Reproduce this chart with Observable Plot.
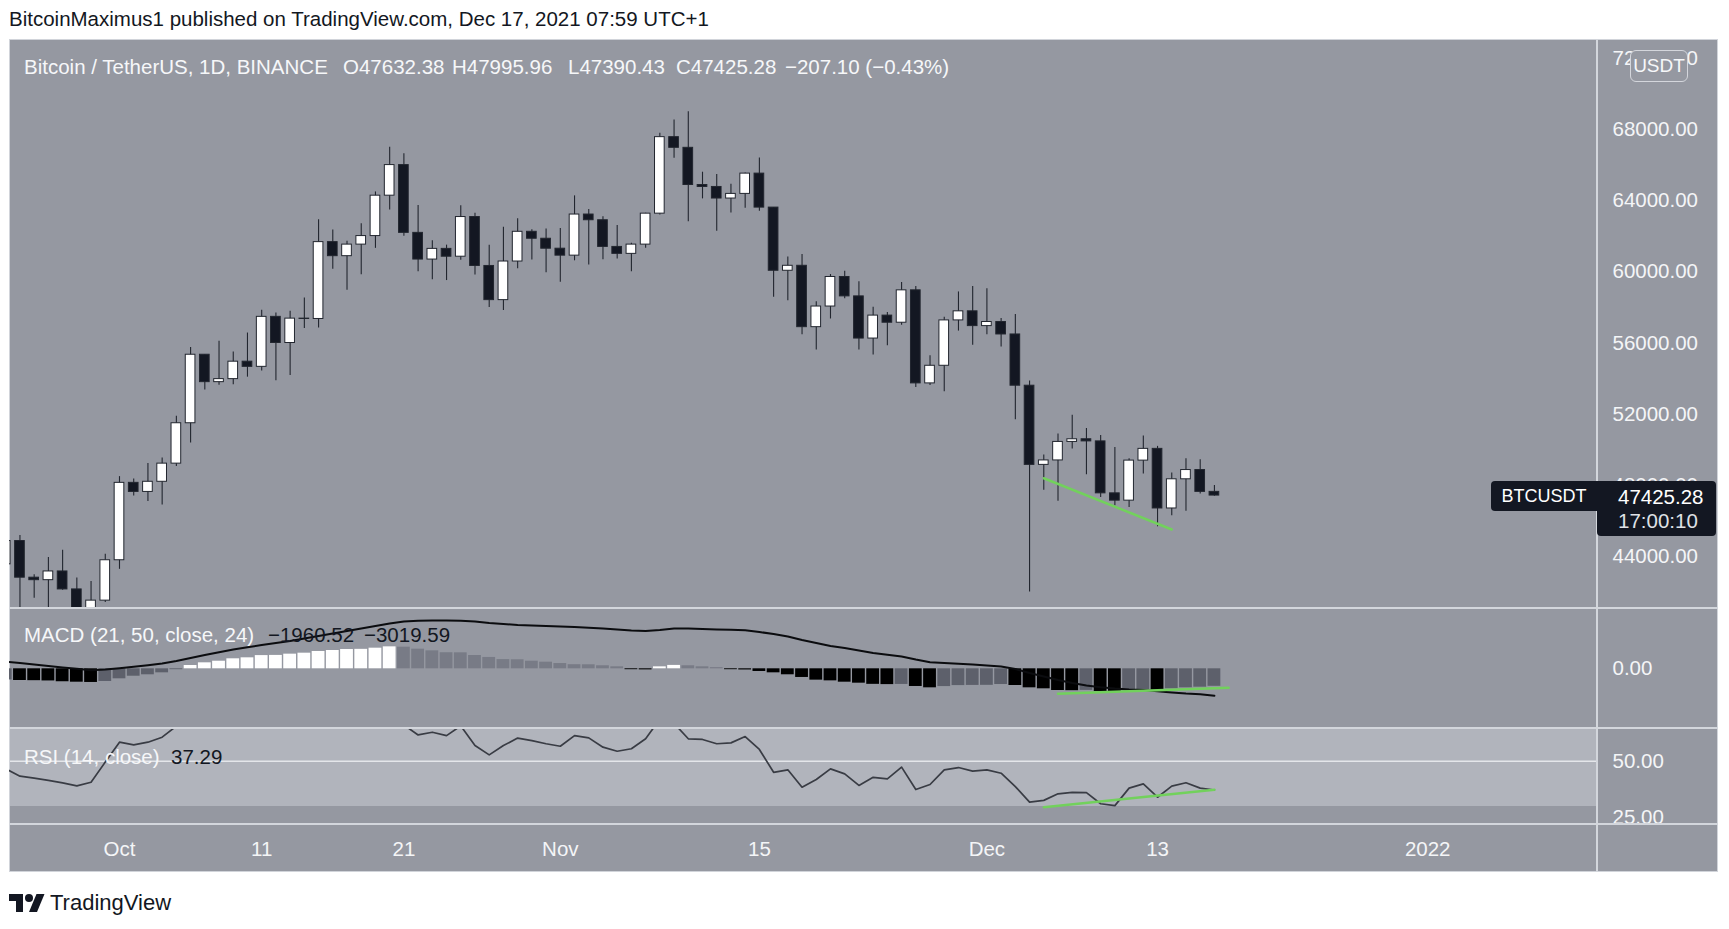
<!DOCTYPE html>
<html>
<head>
<meta charset="utf-8">
<script src="https://cdn.jsdelivr.net/npm/d3@7"></script>
<script src="https://cdn.jsdelivr.net/npm/@observablehq/plot@0.6"></script>
<style>
  html, body { margin:0; padding:0; background:#ffffff; }
  body { width:1729px; height:929px; position:relative; overflow:hidden; font-family:"Liberation Sans", Arial, sans-serif; }
  .abs { position:absolute; white-space:nowrap; }
  #frame { position:absolute; left:9px; top:39px; width:1707px; height:831px; background:#9598a1; border:1px solid #d1d4da; }
  .pane { position:absolute; left:9px; width:1709px; }
  .sep { position:absolute; background:#d3d6dc; }
  .lg { position:absolute; font-size:20.5px; line-height:24px; white-space:nowrap; color:#f6f7f9; }
  .val { color:#131722; }
</style>
</head>
<body>
<div class="abs" id="byline" style="left:9px;top:7px;font-size:20.5px;line-height:24px;color:#131722;">BitcoinMaximus1 published on TradingView.com, Dec 17, 2021 07:59 UTC+1</div>
<div id="frame"></div>
<div class="pane" id="pricePane" style="top:39px"></div>
<div class="pane" id="macdPane" style="top:609px"></div>
<div class="pane" id="rsiPane" style="top:729px"></div>
<div class="sep" style="left:9px;top:607px;width:1709px;height:2px"></div>
<div class="sep" style="left:9px;top:727px;width:1709px;height:2px"></div>
<div class="sep" style="left:9px;top:823px;width:1709px;height:2px"></div>
<div class="sep" style="left:1596px;top:39px;width:2px;height:833px"></div>
<div id="legends"></div>
<div class="abs" style="left:1630px;top:50px;width:56px;height:30px;border:1px solid #d4d6dc;border-radius:6px;background:#9598a1;color:#f6f7f9;font-size:19px;line-height:30px;text-align:center;">USDT</div>
<div class="abs" style="left:1491px;top:481px;width:106px;height:30px;background:#131722;border-radius:4px 0 0 4px;color:#ffffff;font-size:18px;line-height:30px;text-align:center;">BTCUSDT</div>
<div class="abs" id="lastBox" style="left:1597px;top:481px;width:119px;height:55px;background:#131722;border-radius:0 4px 4px 4px;"></div>
<svg class="abs" style="left:9px;top:894px" width="36" height="18" viewBox="0 4 36 18">
  <path d="M14 22H7V11H0V4h14v18z" fill="#131722"/>
  <circle cx="20" cy="8" r="4" fill="#131722"/>
  <path d="M28 22h-8l7.5-18h8L28 22z" fill="#131722"/>
</svg>
<div class="abs" style="left:50px;top:890px;font-size:22px;line-height:26px;color:#131722;">TradingView</div>

<script>
const DAY = 864e5;
const firstDay = Date.UTC(2021, 8, 23);

// Daily candles, Sep 23 – Dec 17 2021
const open = [43560,44870,42810,42670,43160,42150,41030,41520,
  43790,48140,47630,48200,49220,51490,55340,53800,53970,54950,54660,57470,56000,57370,57350,61670,60880,61530,62010,64280,66000,62190,60690,61290,60850,63080,60330,58410,60580,62250,61860,
  61300,60910,63220,62900,61400,61010,61530,63270,67570,66970,64880,64770,64120,64380,65520,63610,60060,60340,56890,58050,59710,58620,56250,57540,57140,58960,53730,54720,57270,57780,
  56950,57180,56480,53600,49150,49400,50440,50590,50470,47550,47140,49390,50050,46700,48340,48860,47632.38];
const high = [44980,45180,42980,43950,44350,42790,42590,44130,
  48490,48360,49230,49540,51890,55750,55340,56100,55490,56560,57840,57680,57780,58530,62930,62350,61720,62700,64490,67000,66640,63730,61750,61500,63710,63290,61500,62500,62980,62360,62410,
  62440,64270,63500,63090,62600,61600,63290,67790,68530,69000,65600,65470,64920,65550,66400,63620,60840,60980,58320,59850,60030,59440,58010,57710,59400,59180,55280,57450,58870,59180,
  59050,57380,57600,53860,49700,50890,51940,51200,50800,50130,49490,50780,50190,48700,49500,49440,47995.96];
const low = [43070,40680,41650,40750,42100,40930,40750,41410,
  43280,47400,47090,46890,49060,50380,53360,53620,53660,54080,54420,53880,54170,56820,56850,60150,58960,59840,61320,63480,62000,60000,59560,59510,60650,59820,58000,57820,60170,60670,59950,
  59410,60620,60380,60680,60720,60000,61320,63200,66380,62820,64100,62280,63300,63580,63400,58570,58370,56470,55600,57350,58490,55610,55320,55840,57000,53500,53610,53260,56670,55880,
  56460,55780,51680,42000,47730,47100,50040,48600,47320,46850,46750,48640,45670,46290,46550,47510,47390.43];
const close = [44870,42810,42670,43160,42150,41030,41520,43790,
  48140,47630,48200,49220,51490,55340,53800,53970,54950,54660,57470,56000,57370,57350,61670,60880,61530,62010,64280,66000,62190,60690,61290,60850,63080,60330,58410,60580,62250,61860,61300,
  60910,63220,62900,61400,61010,61530,63270,67570,66970,64880,64770,64120,64380,65520,63610,60060,60340,56890,58050,59710,58620,56250,57540,57140,58960,53730,54720,57270,57780,56950,
  57180,56480,53600,49150,49400,50440,50590,50470,47550,47140,49390,50050,46700,48340,48860,47632.38,47425.28];

// MACD (21, 50, close, 24): histogram and MACD line
const macdHist = [-1250,-1310,-1330,-1360,-1450,-1500,-1530,-1420,
  -1120,-830,-670,-450,-100,370,670,850,1120,1230,1480,1500,1640,1750,1940,2050,2160,2180,2310,2460,2420,2200,2010,1800,1790,1490,1270,1030,1010,850,740,
  590,460,450,340,220,-100,-120,220,380,340,220,130,-100,-130,-300,-450,-670,-970,-1270,-1350,-1500,-1610,-1740,-1770,-1750,-1980,-2130,-1990,-1880,-1860,
  -1850,-1760,-1870,-2130,-2240,-2430,-2450,-2420,-2540,-2580,-2440,-2320,-2440,-2240,-2130,-2060,-1960.52];
const macdLine = [800,640,470,310,150,0,-150,-90,
  60,220,400,590,880,1220,1540,1860,2150,2410,2660,2890,3120,3390,3670,3950,4230,4510,4790,5070,5300,5380,5410,5410,5390,5300,5130,5020,4910,4850,4790,
  4740,4680,4600,4510,4400,4290,4230,4350,4510,4510,4460,4400,4370,4320,4120,3900,3620,3230,2890,2550,2330,2050,1770,1570,1380,1040,740,650,560,480,
  370,260,-20,-470,-860,-1250,-1590,-1870,-2060,-2210,-2320,-2370,-2520,-2650,-2770,-2850,-3019.59];

// RSI (14, close)
const rsi = [46.6,43.4,42.5,41.5,40.4,39.1,40.7,49.6,
  58.4,57.2,58.4,60.6,65.5,72,67,67.5,69,68,72,67,70,70,76,73,74,75,78,80,66,61.6,62.8,61.3,65.6,56.9,52.8,56.9,60.2,59.1,57.7,
  56.6,61.3,60.3,56.2,54.4,55.5,59.9,68.6,66.7,59.9,59.6,57.7,58.1,60.9,55.2,45.1,46.2,38.5,41.9,46.6,44.4,39.3,42.9,42.2,47.4,37.5,39.7,46.2,47.2,45.6,
  46.2,44.7,38.8,31.9,32.7,35.6,36.2,36.1,31.2,30.4,38.1,40.0,34.1,39.0,40.5,38.1,37.29];

// Drawn trend lines
const priceTrendDates = [Date.UTC(2021,11,5), Date.UTC(2021,11,14)];
const priceTrendValues = [48400, 45520];
const macdTrendDates = [Date.UTC(2021,11,6), Date.UTC(2021,11,18)];
const macdTrendValues = [-2800, -2130];
const rsiTrendDates = [Date.UTC(2021,11,5), Date.UTC(2021,11,17)];
const rsiTrendValues = [29.7, 37.4];

// Axis ticks
const timeTickDates = [Date.UTC(2021,9,1), Date.UTC(2021,9,11), Date.UTC(2021,9,21), Date.UTC(2021,10,1), Date.UTC(2021,10,15), Date.UTC(2021,11,1), Date.UTC(2021,11,13), Date.UTC(2022,0,1)];
const timeTickLabels = ["Oct","11","21","Nov","15","Dec","13","2022"];
const priceTicks = [44000,48000,52000,56000,60000,64000,68000,72000];
const macdTicks = [0];
const rsiTicks = [25, 50];

const GREEN = "#72d15c";
const FONT = '"Liberation Sans", Arial, sans-serif';
const oct1 = Date.UTC(2021, 9, 1);
const xDomain = [new Date(oct1 - 7.665 * DAY), new Date(oct1 + 103.94 * DAY)];

const dates = close.map((_, i) => new Date(firstDay + i * DAY));
const candles = dates.map((date, i) => ({date, open: open[i], high: high[i], low: low[i], close: close[i]}));
const macdRows = dates.map((date, i) => {
  const h = macdHist[i], p = i > 0 ? macdHist[i - 1] : null;
  const color = h >= 0 ? ((p === null || h > p) ? "#ffffff" : "#787b86") : ((p !== null && h < p) ? "#000000" : "#5d606b");
  return {date, hist: h, macd: macdLine[i], color};
});
const rsiRows = dates.map((date, i) => ({date, rsi: rsi[i]}));
const toRows = (ds, vs) => ds.map((t, i) => ({date: new Date(t), value: vs[i]}));
const priceTrend = toRows(priceTrendDates, priceTrendValues);
const macdTrend = toRows(macdTrendDates, macdTrendValues);
const rsiTrend = toRows(rsiTrendDates, rsiTrendValues);
const tickDates = timeTickDates.map(t => new Date(t));

const base = (height, marginBottom) => ({
  width: 1709, height, marginLeft: 1, marginRight: 121, marginTop: 0, marginBottom,
  style: {background: "transparent", color: "#f4f5f7", fontFamily: FONT, fontSize: "20.5px", overflow: "hidden"}
});
const xHidden = {type: "utc", domain: xDomain, axis: null};
const yRight = (domain, ticks) => ({domain, axis: "right", ticks, tickFormat: d => d.toFixed(2), tickSize: 0, tickPadding: 15, label: null});
const half = (d, k) => new Date(+d.date + k * DAY);

const pricePlot = Plot.plot({
  ...base(569, 0),
  x: xHidden,
  y: yRight([41078, 73058], priceTicks),
  marks: [
    Plot.ruleX(candles, {x: "date", y1: "low", y2: "high", stroke: "#22262f", strokeWidth: 1.1}),
    Plot.rect(candles, {x1: d => half(d, -0.34), x2: d => half(d, 0.34), y1: "open", y2: "close",
      fill: d => d.close >= d.open ? "#ffffff" : "#131722", stroke: "#22262f", strokeWidth: 1}),
    Plot.line(priceTrend, {x: "date", y: "value", stroke: GREEN, strokeWidth: 2.5})
  ]
});
document.getElementById("pricePane").appendChild(pricePlot);

const macdPlot = Plot.plot({
  ...base(119, 0),
  x: xHidden,
  y: yRight([-6686, 6642], macdTicks),
  marks: [
    Plot.rect(macdRows, {x1: d => half(d, -0.45), x2: d => half(d, 0.45), y1: 0, y2: "hist", fill: "color"}),
    Plot.line(macdRows, {x: "date", y: "macd", stroke: "#0b0c0f", strokeWidth: 2}),
    Plot.line(macdTrend, {x: "date", y: "value", stroke: GREEN, strokeWidth: 2.5})
  ]
});
document.getElementById("macdPane").appendChild(macdPlot);

const rsiPlot = Plot.plot({
  ...base(143, 48),
  x: {type: "utc", domain: xDomain, axis: "bottom", ticks: tickDates,
      tickFormat: d => timeTickLabels[timeTickDates.indexOf(+d)], tickSize: 0, tickPadding: 17, label: null},
  y: yRight([22.05, 64.0], rsiTicks),
  marks: [
    Plot.rect([{lo: 30, hi: 70}], {x1: () => xDomain[0], x2: () => xDomain[1], y1: "lo", y2: "hi", fill: "#b1b4bc"}),
    Plot.ruleY([50], {stroke: "#e4e6ea", strokeWidth: 1.5}),
    Plot.line(rsiRows, {x: "date", y: "rsi", stroke: "#393c44", strokeWidth: 1.7}),
    Plot.line(rsiTrend, {x: "date", y: "value", stroke: GREEN, strokeWidth: 2.5})
  ]
});
document.getElementById("rsiPane").appendChild(rsiPlot);

// Legends
const fmt = v => (v < 0 ? "\u2212" : "") + Math.abs(v).toFixed(2);
const n = close.length;
const chg = close[n - 1] - close[n - 2];
const pct = chg / close[n - 2] * 100;
const legends = document.getElementById("legends");
function addText(text, left, top, cls) {
  const el = document.createElement("div");
  el.className = "lg" + (cls ? " " + cls : "");
  el.style.left = left + "px";
  el.style.top = top + "px";
  el.textContent = text;
  legends.appendChild(el);
}
addText("Bitcoin / TetherUS, 1D, BINANCE", 24, 55);
addText("O" + open[n - 1].toFixed(2), 343, 55);
addText("H" + high[n - 1].toFixed(2), 452, 55);
addText("L" + low[n - 1].toFixed(2), 568, 55);
addText("C" + close[n - 1].toFixed(2), 676, 55);
addText(fmt(chg) + " (" + fmt(pct) + "%)", 785, 55);
addText("MACD (21, 50, close, 24)", 24, 623);
addText(fmt(macdHist[n - 1]), 268, 623, "val");
addText(fmt(macdLine[n - 1]), 364, 623, "val");
addText("RSI (14, close)", 24, 745);
addText(rsi[n - 1].toFixed(2), 171, 745, "val");

const box = document.getElementById("lastBox");
const p1 = document.createElement("div");
p1.className = "lg"; p1.style.left = "21px"; p1.style.top = "4px"; p1.style.color = "#ffffff";
p1.textContent = close[n - 1].toFixed(2);
const p2 = document.createElement("div");
p2.className = "lg"; p2.style.left = "21px"; p2.style.top = "28px"; p2.style.color = "#dfe1e6";
p2.textContent = "17:00:10";
box.appendChild(p1); box.appendChild(p2);
</script>
</body>
</html>
